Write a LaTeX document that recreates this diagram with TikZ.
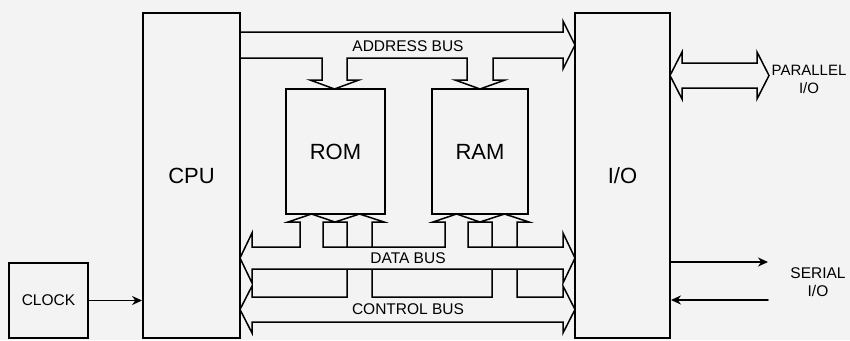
\documentclass[tikz,border=0pt]{standalone}
\usepackage{fontspec}
\setmainfont{Liberation Sans}
\usetikzlibrary{arrows.meta}
\definecolor{bgc}{RGB}{243,243,243}
\tikzset{
	unit/.style={draw, line width=1.9pt, fill=bgc, inner sep=0pt},
	bus/.style={draw, line width=1.5pt, fill=bgc, line join=miter},
	buslabel/.style={inner sep=0pt, font=\fontsize{15.5}{18}\selectfont},
	bigtext/.style={font=\fontsize{22}{22}\selectfont},
	link/.style={->, line width=1.6pt},
}
\begin{document}
\begin{tikzpicture}[x=1pt, y=-1pt, line cap=round, >={Stealth[length=10pt,width=9pt]}]
	\useasboundingbox[fill=bgc] (0,0) rectangle (850,340);
	% buses
	\draw[bus] (240,32) -- (563,32) -- (563,21) -- (575,45) -- (563,69) -- (563,58)
	-- (493,58) -- (493,80) -- (505,80) -- (480,89) -- (455,80) -- (467,80) -- (467,58)
	-- (347,58) -- (347,80) -- (359,80) -- (334.5,89) -- (310,80) -- (322,80) -- (322,58)
	-- (240,58);
	\draw[bus] (252,297) -- (347,297) -- (347,222) -- (335,222) -- (359.5,214) -- (384,222) -- (372,222) -- (372,297)
	-- (492,297) -- (492,222) -- (480,222) -- (504.5,214) -- (529,222) -- (517,222) -- (517,297)
	-- (563,297) -- (563,286) -- (575,309.5) -- (563,333) -- (563,322)
	-- (252,322) -- (252,333) -- (240,309.5) -- (252,286) -- cycle;
	\draw[bus] (252,247) -- (300,247) -- (300,222) -- (288,222) -- (311.5,214) -- (335,222) -- (323,222) -- (323,247)
	-- (445,247) -- (445,222) -- (433,222) -- (456.5,214) -- (480,222) -- (468,222) -- (468,247)
	-- (563,247) -- (563,233) -- (575,258) -- (563,283) -- (563,269)
	-- (252,269) -- (252,283) -- (240,258) -- (252,233) -- cycle;
	\draw[bus] (682,63) -- (757,63) -- (757,52) -- (769,75.5) -- (757,99) -- (757,88)
	-- (682,88) -- (682,99) -- (670,75.5) -- (682,52) -- cycle;
	% units
	\node[unit, bigtext, minimum width=97pt, minimum height=325pt] (cpu) at (191.5,175.5) {CPU};
	\node[unit, bigtext, minimum width=95pt, minimum height=325pt] (io) at (622.5,175.5) {I/O};
	\node[unit, bigtext, minimum width=99pt, minimum height=125pt] (rom) at (335.5,151.5) {ROM};
	\node[unit, bigtext, minimum width=96pt, minimum height=125pt] (ram) at (480,151.5) {RAM};
	\node[unit, buslabel, minimum width=79pt, minimum height=75pt] (clock) at (48.5,300.5) {CLOCK};
	% labels
	\node[buslabel] (addrbus) at (408,46) {ADDRESS BUS};
	\node[buslabel] (databus) at (408,258) {DATA BUS};
	\node[buslabel] (ctrlbus) at (408,309.5) {CONTROL BUS};
	\node[buslabel, font=\fontsize{15}{18}\selectfont, align=center] (par) at (809,79) {PARALLEL\\I/O};
	\node[buslabel, align=center] (ser) at (818,282) {SERIAL\\I/O};
	% links
	\coordinate (sout) at (768,262);
	\coordinate (sin) at (768,300);
	\draw[link] (clock.east) -- (clock.east -| cpu.west);
	\draw[link] (io.east |- sout) -- (sout);
	\draw[link] (sin) -- (io.east |- sin);
\end{tikzpicture}
\end{document}
